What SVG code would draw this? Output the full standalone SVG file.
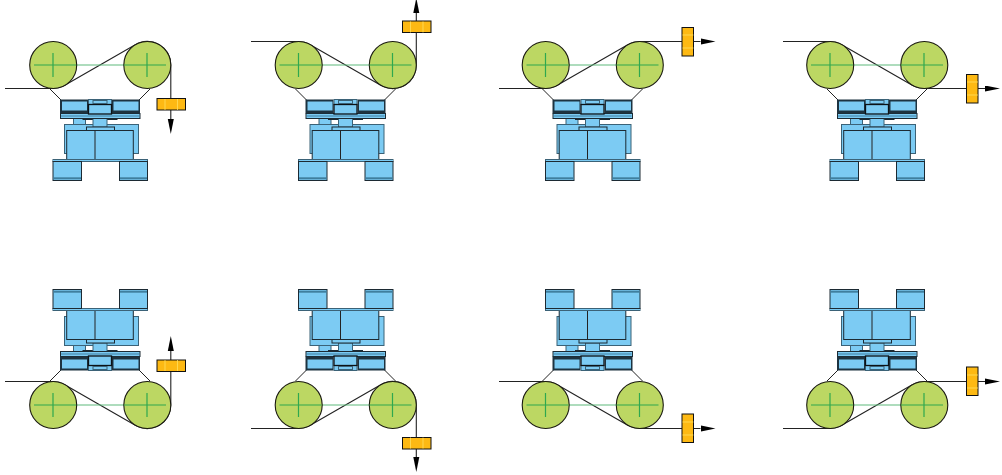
<svg xmlns="http://www.w3.org/2000/svg" width="1002" height="475" viewBox="0 0 1002 475">
<style>
.b{fill:#7ccbf3;stroke:#1c2a33;stroke-width:1}
.k{fill:#7ccbf3;stroke:#3b6277;stroke-width:1}
.t{fill:#7ccbf3;stroke:#0c1216;stroke-width:1.3}
.o{fill:#1d3340;stroke:none}
.i{fill:#7ccbf3;stroke:none}
.d{fill:#3f7f9f;stroke:none}
.p{fill:#bcd763;stroke:#1a1a10;stroke-width:1.1}
.c{fill:none;stroke:#2fa84f;stroke-width:1.2}
.a{fill:none;stroke:#5fba7d;stroke-width:1.2}
.belt{fill:none;stroke:#222;stroke-width:1.1;marker-end:url(#arrow)}
.belt0{fill:none;stroke:#222;stroke-width:1}
.w{fill:#fdb913;stroke:#111;stroke-width:1}
.s{stroke:#ffe060;stroke-width:.8;fill:none}
</style>
<defs>
<marker id="arrow" markerUnits="userSpaceOnUse" markerWidth="16" markerHeight="8" refX="0" refY="3" orient="auto"><path d="M0 0L15 3L0 6Z" fill="#000"/></marker>
<g id="machine">
<path class="belt0" d="M50 89L61 100M150 89L139 100"/>
<rect class="k" x="64.500" y="124.500" width="74" height="29"/>
<rect class="k" x="73.500" y="118" width="12" height="6.500"/>
<rect class="b" x="83" y="117" width="34" height="2.500"/>
<rect class="k" x="93" y="116" width="14" height="11"/>
<rect class="b" x="86.500" y="127" width="28" height="3.500"/>
<rect class="b" x="66.700" y="130.500" width="66.600" height="29"/>
<path class="belt0" d="M95 130.500V159.500"/>
<rect class="b" x="60.500" y="113.500" width="79.500" height="5"/>
<rect class="d" x="61" y="115.500" width="78" height="1"/>
<rect class="o" x="60" y="99.500" width="28" height="14"/>
<rect class="i" x="62" y="101.500" width="25" height="9"/>
<rect class="o" x="112" y="99.500" width="28" height="14"/>
<rect class="i" x="113.500" y="101.500" width="25" height="9"/>
<rect class="k" x="88.500" y="99.500" width="23" height="5"/>
<rect class="t" x="88.500" y="104.500" width="23" height="9.500"/>
<rect class="k" x="93" y="100.500" width="14" height="3"/>
<rect class="k" x="53" y="159.500" width="94.500" height="2"/>
<rect class="b" x="53" y="161.500" width="28.500" height="19"/>
<rect class="b" x="119.500" y="161.500" width="28" height="19"/>
<rect class="d" x="53.500" y="177.300" width="27.500" height="2"/>
<rect class="d" x="120" y="177.300" width="27" height="2"/>
</g>
<g id="pulleys">
<path class="a" d="M76 65H124"/>
<circle class="p" cx="53.200" cy="65" r="23.500"/>
<circle class="p" cx="147.300" cy="65" r="23.500"/>
<path class="c" d="M34 65H76M53 53V77M124 65H166M147 53V77"/>
</g>
<g id="wh"><rect class="w" x="157" y="98.500" width="28.500" height="11.500"/><path class="s" d="M165 99V110M177.500 99V110"/></g>
<g id="wv"><rect class="w" x="189.500" y="27.500" width="11.500" height="28.500"/><path class="s" d="M190 35H201M190 48H201"/></g>
<path id="b1" class="belt" d="M5 88.500H53A23.500 23.500 0 0 0 64.750 85.350L135.250 44.650A23.500 23.500 0 0 1 170.800 65V119"/>
<path id="b2" class="belt" d="M5.500 41.500H53A23.500 23.500 0 0 1 64.750 44.650L135.250 85.350A23.500 23.500 0 0 0 170.800 65V13"/>
<path id="b3" class="belt" d="M6.500 88.500H53A23.500 23.500 0 0 0 64.750 85.350L135.250 44.650A23.500 23.500 0 0 1 147 41.500H208"/>
<path id="b4" class="belt" d="M6 41.500H53A23.500 23.500 0 0 1 64.750 44.650L135.250 85.350A23.500 23.500 0 0 0 147 88.500H208"/>
</defs>
<g id="connectors">
<use href="#b1"/>
<use href="#b2" transform="translate(245.500 0)"/>
<use href="#b3" transform="translate(492.500 0)"/>
<use href="#b4" transform="translate(777 0)"/>
<use href="#b1" transform="translate(0 470) scale(1 -1)"/>
<use href="#b2" transform="translate(245.500 470) scale(1 -1)"/>
<use href="#b3" transform="translate(492.500 470) scale(1 -1)"/>
<use href="#b4" transform="translate(777 470) scale(1 -1)"/>
</g>
<g id="panel1"><use href="#machine"/><use href="#pulleys"/><use href="#wh"/></g>
<g id="panel2" transform="translate(245.500 0)"><use href="#machine"/><use href="#pulleys"/><use href="#wh" y="-77.500"/></g>
<g id="panel3" transform="translate(492.500 0)"><use href="#machine"/><use href="#pulleys"/><use href="#wv"/></g>
<g id="panel4" transform="translate(777 0)"><use href="#machine"/><use href="#pulleys"/><use href="#wv" y="47"/></g>
<g id="panel5" transform="translate(0 470) scale(1 -1)"><use href="#machine"/><use href="#pulleys"/><use href="#wh"/></g>
<g id="panel6" transform="translate(245.500 470) scale(1 -1)"><use href="#machine"/><use href="#pulleys"/><use href="#wh" y="-77.500"/></g>
<g id="panel7" transform="translate(492.500 470) scale(1 -1)"><use href="#machine"/><use href="#pulleys"/><use href="#wv"/></g>
<g id="panel8" transform="translate(777 470) scale(1 -1)"><use href="#machine"/><use href="#pulleys"/><use href="#wv" y="47"/></g>
</svg>
